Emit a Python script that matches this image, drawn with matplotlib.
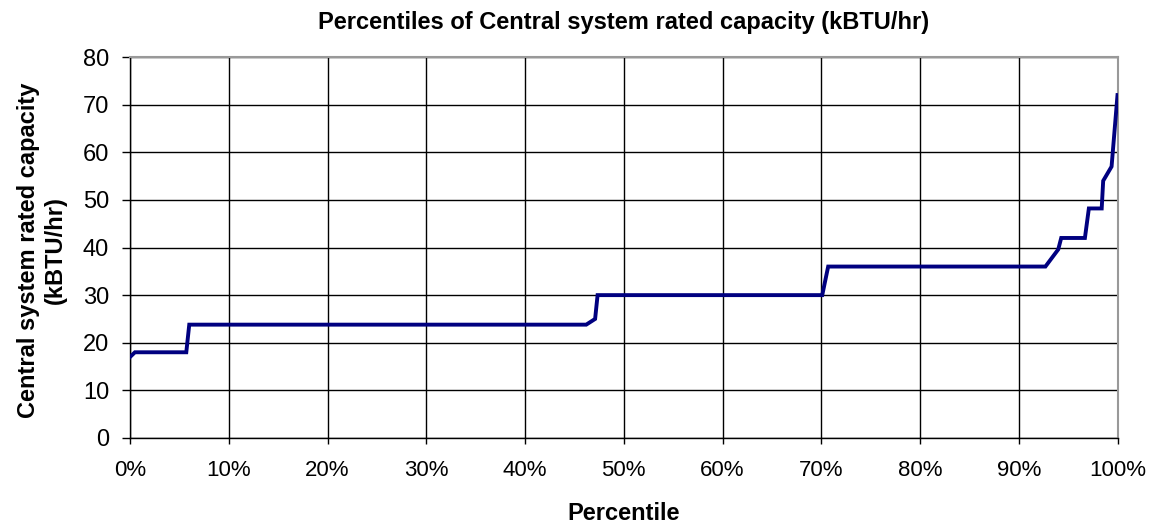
import matplotlib
matplotlib.use("Agg")
import matplotlib.pyplot as plt
from matplotlib.ticker import FuncFormatter

plt.rcParams['font.family'] = ['Liberation Sans', 'DejaVu Sans']

# Percentile (%) and capacity (kBTU/hr)
percentile = [0.0, 0.5, 5.7, 6.0, 46.2, 47.1, 47.35, 70.1, 70.7, 92.7, 94.0, 94.3,
              96.7, 97.1, 98.4, 98.55, 99.4, 100.0]
capacity = [17.0, 18.0, 18.0, 23.8, 23.8, 25.0, 30.0, 30.0, 36.0, 36.0, 39.6, 42.0,
            42.0, 48.2, 48.2, 54.0, 57.0, 72.0]

x_ticks = [0, 10, 20, 30, 40, 50, 60, 70, 80, 90, 100]
y_ticks = [0, 10, 20, 30, 40, 50, 60, 70, 80]

title = "Percentiles of Central system rated capacity (kBTU/hr)"
xlabel = "Percentile"
ylabel = "Central system rated capacity\n(kBTU/hr)"

fig = plt.figure(figsize=(11.53, 5.25), dpi=100)
ax = fig.add_axes([130 / 1153, 1 - 438 / 525, 987.5 / 1153, 381 / 525])

ax.plot(percentile, capacity, color='#000080', linewidth=2.8, solid_joinstyle='miter', zorder=3)

ax.set_xlim(0, 100)
ax.set_ylim(0, 80)
ax.set_xticks(x_ticks)
ax.set_yticks(y_ticks)
ax.xaxis.set_major_formatter(FuncFormatter(lambda v, p: f"{int(round(v))}%"))
ax.grid(True, color='black', linewidth=1.0, zorder=1)
ax.set_axisbelow(True)

for s in ['top', 'right']:
    ax.spines[s].set_color('#999999')
    ax.spines[s].set_linewidth(1.5)
for s in ['left', 'bottom']:
    ax.spines[s].set_color('black')
    ax.spines[s].set_linewidth(1.0)

ax.tick_params(axis='both', direction='out', width=1, colors='black')
ax.tick_params(axis='x', length=4, pad=12, labelsize=16)
ax.tick_params(axis='y', length=6, pad=9, labelsize=17)

fig.text(624 / 1153, 1 - 22 / 525, title, ha='center', va='center', fontsize=17, fontweight='bold')
fig.text(624 / 1153, 1 - 514 / 525, xlabel, ha='center', va='center', fontsize=17, fontweight='bold')
fig.text(42 / 1153, 1 - 250 / 525, ylabel, ha='center', va='center', rotation=90,
         fontsize=17, fontweight='bold', linespacing=1.2)

fig.savefig("out.png", dpi=100)
